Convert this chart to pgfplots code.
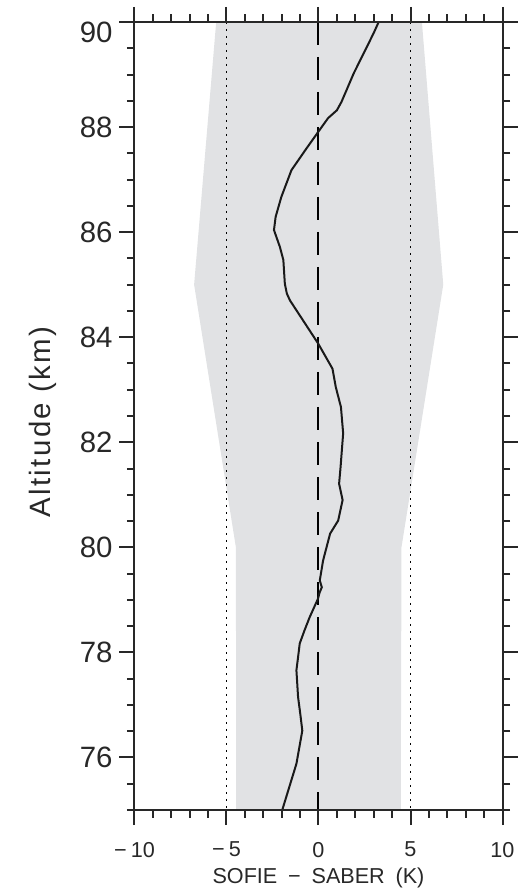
\documentclass[border=0pt]{standalone}
\usepackage{pgfplots}
\pgfplotsset{compat=1.18}
\usepackage{fontspec}
\setmainfont{Liberation Sans}
\newfontfamily\labelfont[LetterSpace=8]{Liberation Sans}

\definecolor{bandgray}{RGB}{225,226,228}
\definecolor{axisdark}{RGB}{40,40,40}

\begin{document}
\begin{tikzpicture}
\useasboundingbox (-67.25bp,-39.5bp) rectangle (198.5bp,405bp);
\begin{axis}[
  scale only axis,
  width=184bp, height=394bp,
  xmin=-10, xmax=10, ymin=75, ymax=90,
  axis on top,
  axis line style={axisdark, line width=1bp},
  every tick/.style={axisdark, line width=1bp},
  tick align=outside,
  major tick length=7.5bp, minor tick length=3.8bp,
  xtick={-10,-5,0,5,10},
  xticklabels={−\hspace{0.2em}10,−\hspace{0.2em}5,0,5,10},
  minor xtick={-9,...,9},
  ytick={76,78,...,88},
  yticklabels={76,78,80,82,84,86,88},
  minor ytick={75,75.5,...,89.5},
  extra y ticks={90},
  extra y tick labels={90},
  extra y tick style={yticklabel style={yshift=-5.25bp}},
  /pgf/number format/assume math mode=true,
  xticklabel style={font=\fontsize{10.8bp}{12bp}\selectfont, text=axisdark, yshift=-5bp},
  yticklabel style={font=\fontsize{14.7bp}{16bp}\selectfont, text=axisdark},
  xlabel={SOFIE\enspace−\enspace SABER\enspace(K)},
  ylabel={Altitude (km)},
  every axis x label/.style={at={(axis description cs:0.5,0)}, anchor=base, yshift=-36.5bp,
    font=\fontsize{10.8bp}{12bp}\selectfont, text=axisdark},
  every axis y label/.style={at={(axis description cs:0,0.5)}, xshift=-46bp, yshift=-3bp,
    anchor=center, rotate=90, font=\labelfont\fontsize{14.7bp}{16bp}\selectfont, text=axisdark},
]

% uncertainty envelope
\addplot[fill=bandgray, draw=none] coordinates {
  (-5.56,90) (-6.76,85) (-4.49,80) (-4.47,75)
  (4.47,75) (4.51,80) (6.78,85) (5.62,90)
} -- cycle;

% +/- 5 K reference lines
\addplot[black, line width=0.8bp, dash pattern=on 0.8bp off 2.7bp] coordinates {(-5,90) (-5,75)};
\addplot[black, line width=0.8bp, dash pattern=on 0.8bp off 2.7bp] coordinates {(5,90) (5,75)};

% zero line
\addplot[black, line width=1bp, dash pattern=on 11.5bp off 6bp] coordinates {(0,90) (0,75)};

% mean temperature difference profile
\addplot[black!90, line width=1bp] table {
dT alt
3.27 90.00
3.00 89.79
2.45 89.40
1.91 89.02
1.52 88.70
1.25 88.48
1.00 88.32
0.52 88.17
0.05 87.94
-0.66 87.59
-1.47 87.18
-2.02 86.67
-2.33 86.29
-2.42 86.04
-2.10 85.72
-1.91 85.47
-1.83 85.02
-1.72 84.83
-1.55 84.70
-0.84 84.32
-0.02 83.88
0.76 83.40
0.94 83.05
1.22 82.67
1.34 82.17
1.20 81.53
1.12 81.21
1.31 80.90
1.07 80.51
0.63 80.26
0.25 79.75
0.07 79.37
0.18 79.24
0.05 79.13
-0.03 79.02
-0.48 78.67
-0.76 78.42
-1.02 78.17
-1.11 77.91
-1.20 77.66
-1.11 77.15
-0.99 76.83
-0.88 76.51
-1.20 75.88
-1.97 75.00
};
\end{axis}
\end{tikzpicture}
\end{document}
